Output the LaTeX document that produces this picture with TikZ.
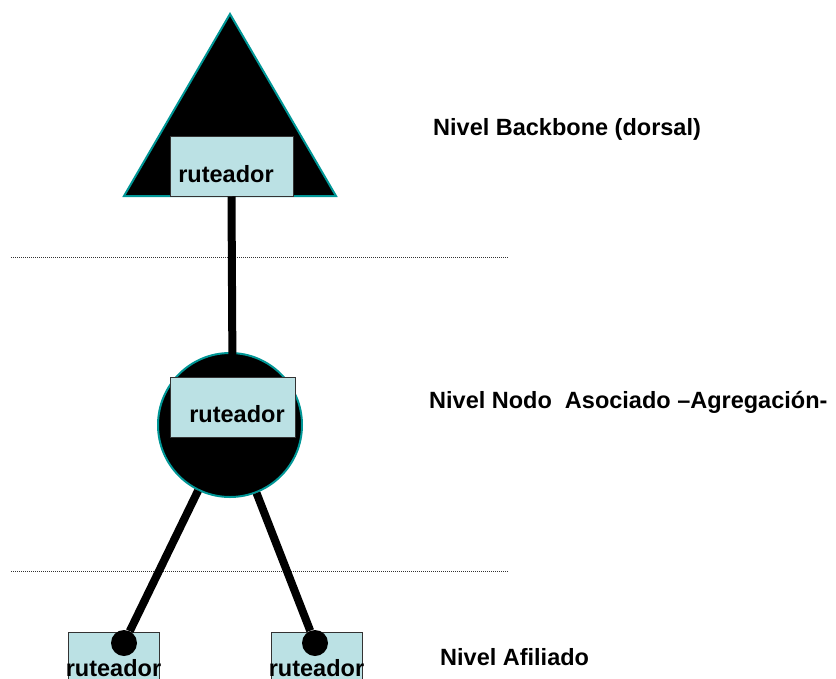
\documentclass[tikz,border=0pt]{standalone}
\usepackage{fontspec}
\setmainfont{Liberation Sans}
\definecolor{rahmen}{RGB}{0,150,150}
\definecolor{kasten}{RGB}{187,225,228}
\tikzset{
	box/.style={draw=black!80, line width=1pt, fill=kasten, inner sep=0pt},
	txt/.style={font=\fontsize{23.5}{27}\selectfont\bfseries, anchor=base, inner sep=0pt},
	lab/.style={font=\fontsize{23.5}{27}\selectfont\bfseries, anchor=base west, inner sep=0pt},
	link/.style={line width=8pt},
	sep/.style={line width=0.9pt, black!80, dash pattern=on 1pt off 1pt},
	punkt/.style={circle, fill=black, minimum size=26, inner sep=0pt},
}
\begin{document}
\begin{tikzpicture}[x=1pt, y=-1pt]
	\useasboundingbox (0,0) rectangle (836,678);
	\clip (0,0) rectangle (836,678);
	
	\def\lvA{257} %Trennlinie oben
	\def\lvB{571} %Trennlinie unten
	
	\draw[rahmen, line width=2pt, fill=black] (230,14) -- (124,196) -- (336,196) -- cycle; %Backbone
	\node[box, minimum width=123, minimum height=60] (rtBack) at (231.5,166) {};
	\node[txt] (tBack) at (226,182) {ruteador};
	
	\draw[sep] (11,\lvA) -- (508,\lvA);
	\draw[sep] (11,\lvB) -- (508,\lvB);
	
	\node[circle, fill=black, draw=rahmen, line width=2pt, minimum size=144] (knoten) at (230,425) {}; %Agregacion
	\node[box, minimum width=125, minimum height=60] (rtNodo) at (232.5,407) {};
	\draw[link] (rtBack.south) -- (rtNodo.north);
	\node[txt] (tNodo) at (237,422) {ruteador};
	
	\node[box, minimum width=91, minimum height=60, anchor=north] (rtAfA) at (113.5,632) {}; %Afiliados
	\node[box, minimum width=91, minimum height=60, anchor=north] (rtAfB) at (316.5,632) {};
	\node[punkt] (pA) at (124,643) {};
	\node[punkt] (pB) at (315,643) {};
	\draw[link] (knoten) -- (pA);
	\draw[link] (knoten) -- (pB);
	\node[txt] (tAfA) at (113.5,676.5) {ruteador};
	\node[txt] (tAfB) at (316.5,676.5) {ruteador};
	
	\node[lab] (lBack) at (433,135) {Nivel Backbone (dorsal)}; %Beschriftungen
	\node[lab] (lNodo) at (429,408) {Nivel Nodo~~Asociado --Agregación-};
	\node[lab] (lAfil) at (440,665) {Nivel Afiliado};
	
\end{tikzpicture}
\end{document}
